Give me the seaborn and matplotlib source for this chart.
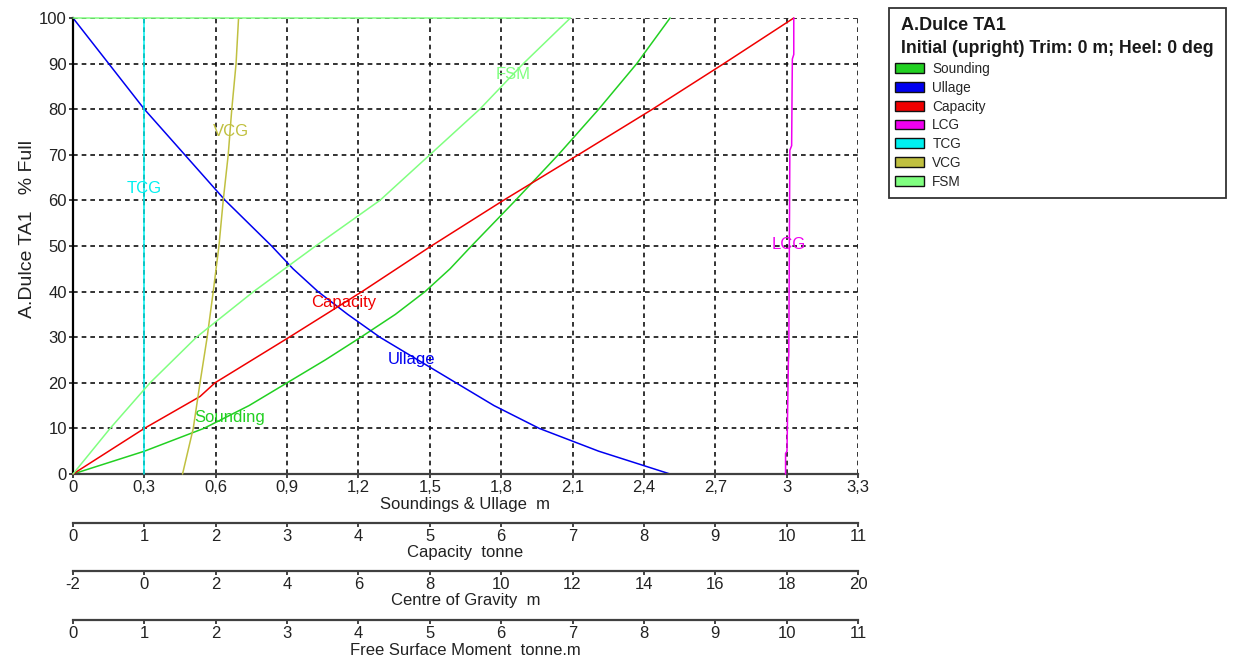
import matplotlib
matplotlib.use("Agg")
import matplotlib.pyplot as plt
from matplotlib.patches import Patch, Rectangle
from matplotlib.ticker import FixedLocator
import seaborn as sns

# ---------------- tank calibration: A.Dulce TA1 ----------------
# Sounding (m) against percentage full
sounding_fill = [0, 5, 10, 15, 20, 25, 30, 35, 40, 45, 50, 60, 70, 80, 90, 100]
sounding_m = [0.00, 0.30, 0.55, 0.74, 0.90, 1.06, 1.21, 1.355, 1.48, 1.585, 1.675,
              1.86, 2.04, 2.21, 2.37, 2.51]

# Ullage (m) against percentage full
ullage_fill = [0, 5, 10, 15, 20, 25, 30, 35, 40, 45, 50, 60, 70, 80, 90, 100]
ullage_m = [2.51, 2.21, 1.96, 1.77, 1.61, 1.45, 1.29, 1.155, 1.03, 0.925, 0.835,
            0.64, 0.47, 0.30, 0.15, 0.00]

# Capacity (tonne)
capacity_fill = [0, 10, 17, 20, 30, 40, 50, 60, 70, 80, 90, 100]
capacity_t = [0.00, 1.00, 1.78, 1.99, 3.03, 4.05, 5.02, 6.03, 7.08, 8.12, 9.12, 10.10]

# Centres of gravity (m)
lcg_fill = [0, 4.5, 5, 25, 26, 71, 72, 91, 92, 100]
lcg_m = [17.97, 17.97, 18.01, 18.05, 18.06, 18.09, 18.14, 18.16, 18.20, 18.20]

tcg_fill = [0, 100]
tcg_m = [0.0, 0.0]

vcg_fill = [0, 10, 20, 30, 40, 50, 60, 70, 80, 90, 100]
vcg_m = [1.07, 1.37, 1.56, 1.76, 1.93, 2.09, 2.21, 2.35, 2.45, 2.57, 2.64]

# Free surface moment (tonne.m); drops to zero once the tank is full
fsm_fill = [0, 10, 20, 30, 40, 50, 60, 70, 80, 90, 100, 100]
fsm_tm = [0.00, 0.52, 1.08, 1.73, 2.53, 3.40, 4.30, 5.00, 5.70, 6.31, 6.97, 0.00]

# ---------------- axis scales ----------------
fill_ticks = [0, 10, 20, 30, 40, 50, 60, 70, 80, 90, 100]
sound_ticks = [0, 0.3, 0.6, 0.9, 1.2, 1.5, 1.8, 2.1, 2.4, 2.7, 3.0, 3.3]
sound_labels = ["0", "0,3", "0,6", "0,9", "1,2", "1,5", "1,8", "2,1", "2,4", "2,7", "3", "3,3"]
cap_ticks = [0, 1, 2, 3, 4, 5, 6, 7, 8, 9, 10, 11]
cg_ticks = [-2, 0, 2, 4, 6, 8, 10, 12, 14, 16, 18, 20]
fsm_ticks = [0, 1, 2, 3, 4, 5, 6, 7, 8, 9, 10, 11]

series_names = ["Sounding", "Ullage", "Capacity", "LCG", "TCG", "VCG", "FSM"]
series_colors = ["#22D022", "#0000F0", "#F00000", "#F000F0", "#00F0F0", "#C0C040", "#80FF80"]
col = dict(zip(series_names, series_colors))

# ---------------- style ----------------
sns.set_theme(style="white")
plt.rcParams["font.family"] = ["Liberation Sans", "DejaVu Sans"]
plt.rcParams["axes.unicode_minus"] = False

W, H = 1237, 664
fig = plt.figure(figsize=(W / 100, H / 100), dpi=100)
fig.patch.set_facecolor("white")

left, right, top, bottom = 73, 858, 18, 474
ax = fig.add_axes([left / W, 1 - bottom / H, (right - left) / W, (bottom - top) / H])
ax.set_facecolor("white")

TICK_FS = 12
AX_COLOR = "#404040"

# main axes: soundings & ullage
ax.set_xlim(0, 3.3)
ax.set_ylim(0, 100)
ax.xaxis.set_major_locator(FixedLocator(sound_ticks))
ax.set_xticklabels(sound_labels)
ax.set_yticks(fill_ticks)
ax.set_yticklabels([str(v) for v in fill_ticks])
ax.grid(True, color="#111111", linestyle=(0, (2.8, 2.4)), linewidth=1.2)
ax.set_axisbelow(True)
for s in ["top", "right"]:
    ax.spines[s].set_visible(False)
ax.spines["left"].set_color("black")
ax.spines["left"].set_linewidth(1.6)
ax.spines["bottom"].set_color(AX_COLOR)
ax.spines["bottom"].set_linewidth(1.6)
ax.tick_params(axis="both", which="both", direction="out", length=3, width=1.2,
               color="#222222", labelsize=TICK_FS, labelcolor="#222222", pad=1.5,
               bottom=True, left=True)
ax.set_xlabel("Soundings & Ullage  m", fontsize=TICK_FS, color="#222222", labelpad=1)
ax.set_ylabel("A.Dulce TA1   % Full", fontsize=14, color="#222222")
ax.yaxis.set_label_coords(-0.047, 0.537)

line_kw = dict(sort=False, estimator=None, linewidth=1.1, clip_on=False)

sns.lineplot(x=sounding_m, y=sounding_fill, ax=ax, color=col["Sounding"], **line_kw)
sns.lineplot(x=ullage_m, y=ullage_fill, ax=ax, color=col["Ullage"], **line_kw)


def secondary_axis(lim, ticks, title, offset_pt):
    t = ax.twiny()
    t.set_xlim(*lim)
    t.set_ylim(0, 100)
    t.xaxis.set_ticks_position("bottom")
    t.xaxis.set_label_position("bottom")
    for s in ["top", "left", "right"]:
        t.spines[s].set_visible(False)
    t.spines["bottom"].set_visible(True)
    t.spines["bottom"].set_position(("outward", offset_pt))
    t.spines["bottom"].set_color(AX_COLOR)
    t.spines["bottom"].set_linewidth(1.6)
    t.xaxis.set_major_locator(FixedLocator(ticks))
    t.set_xticklabels([str(v) for v in ticks])
    t.tick_params(axis="x", direction="out", length=3, width=1.2, color="#222222",
                  labelsize=TICK_FS, labelcolor="#222222", pad=1.5)
    t.set_xlabel(title, fontsize=TICK_FS, color="#222222", labelpad=1)
    t.grid(False)
    return t


ax_cap = secondary_axis((0, 11), cap_ticks, "Capacity  tonne", 35.0)
ax_cg = secondary_axis((-2, 20), cg_ticks, "Centre of Gravity  m", 69.6)
ax_fsm = secondary_axis((0, 11), fsm_ticks, "Free Surface Moment  tonne.m", 105.1)

sns.lineplot(x=capacity_t, y=capacity_fill, ax=ax_cap, color=col["Capacity"], **line_kw)
sns.lineplot(x=lcg_m, y=lcg_fill, ax=ax_cg, color=col["LCG"], **line_kw)
sns.lineplot(x=tcg_m, y=tcg_fill, ax=ax_cg, color=col["TCG"], **line_kw)
sns.lineplot(x=vcg_m, y=vcg_fill, ax=ax_cg, color=col["VCG"], **line_kw)
sns.lineplot(x=fsm_tm, y=fsm_fill, ax=ax_fsm, color=col["FSM"], **line_kw)

for t in (ax_cap, ax_cg, ax_fsm):
    t.set_ylabel("")
    t.set_xlim(t.get_xlim())

# curve names written on the chart (axes, x, y)
curve_tags = [
    ("Sounding", ax, 0.66, 12.3),
    ("Ullage", ax, 1.425, 25.2),
    ("Capacity", ax_cap, 3.79, 37.7),
    ("LCG", ax_cg, 18.07, 50.4),
    ("TCG", ax_cg, 0.0, 62.7),
    ("VCG", ax_cg, 2.43, 75.1),
    ("FSM", ax_fsm, 6.17, 87.7),
]
for name, a, xv, yv in curve_tags:
    a.text(xv, yv, name, color=col[name], fontsize=12, ha="center", va="center")

# ---------------- legend box ----------------
box_l, box_r, box_t, box_b = 889, 1226, 8, 198
fig.add_artist(Rectangle((box_l / W, 1 - box_b / H), (box_r - box_l) / W, (box_b - box_t) / H,
                         transform=fig.transFigure, facecolor="white",
                         edgecolor="#333333", linewidth=1.3))
fig.text(901 / W, 1 - 25 / H, "A.Dulce TA1", fontsize=13, fontweight="bold",
         color="#1a1a1a", ha="left", va="center")
fig.text(901 / W, 1 - 48.5 / H, "Initial (upright) Trim: 0 m; Heel: 0 deg", fontsize=12.7,
         fontweight="bold", color="#1a1a1a", ha="left", va="center")

handles = [Patch(facecolor=col[n], edgecolor="#111111", linewidth=1.0, label=n)
           for n in series_names]
fig.legend(handles=handles, loc="upper left", bbox_to_anchor=(895 / W, 1 - 62 / H),
           bbox_transform=fig.transFigure, frameon=False, fontsize=9.8,
           handlelength=2.16, handleheight=0.72, handletextpad=0.58,
           labelspacing=0.35, borderpad=0, borderaxespad=0)

fig.savefig("out.png", dpi=100, facecolor="white")
